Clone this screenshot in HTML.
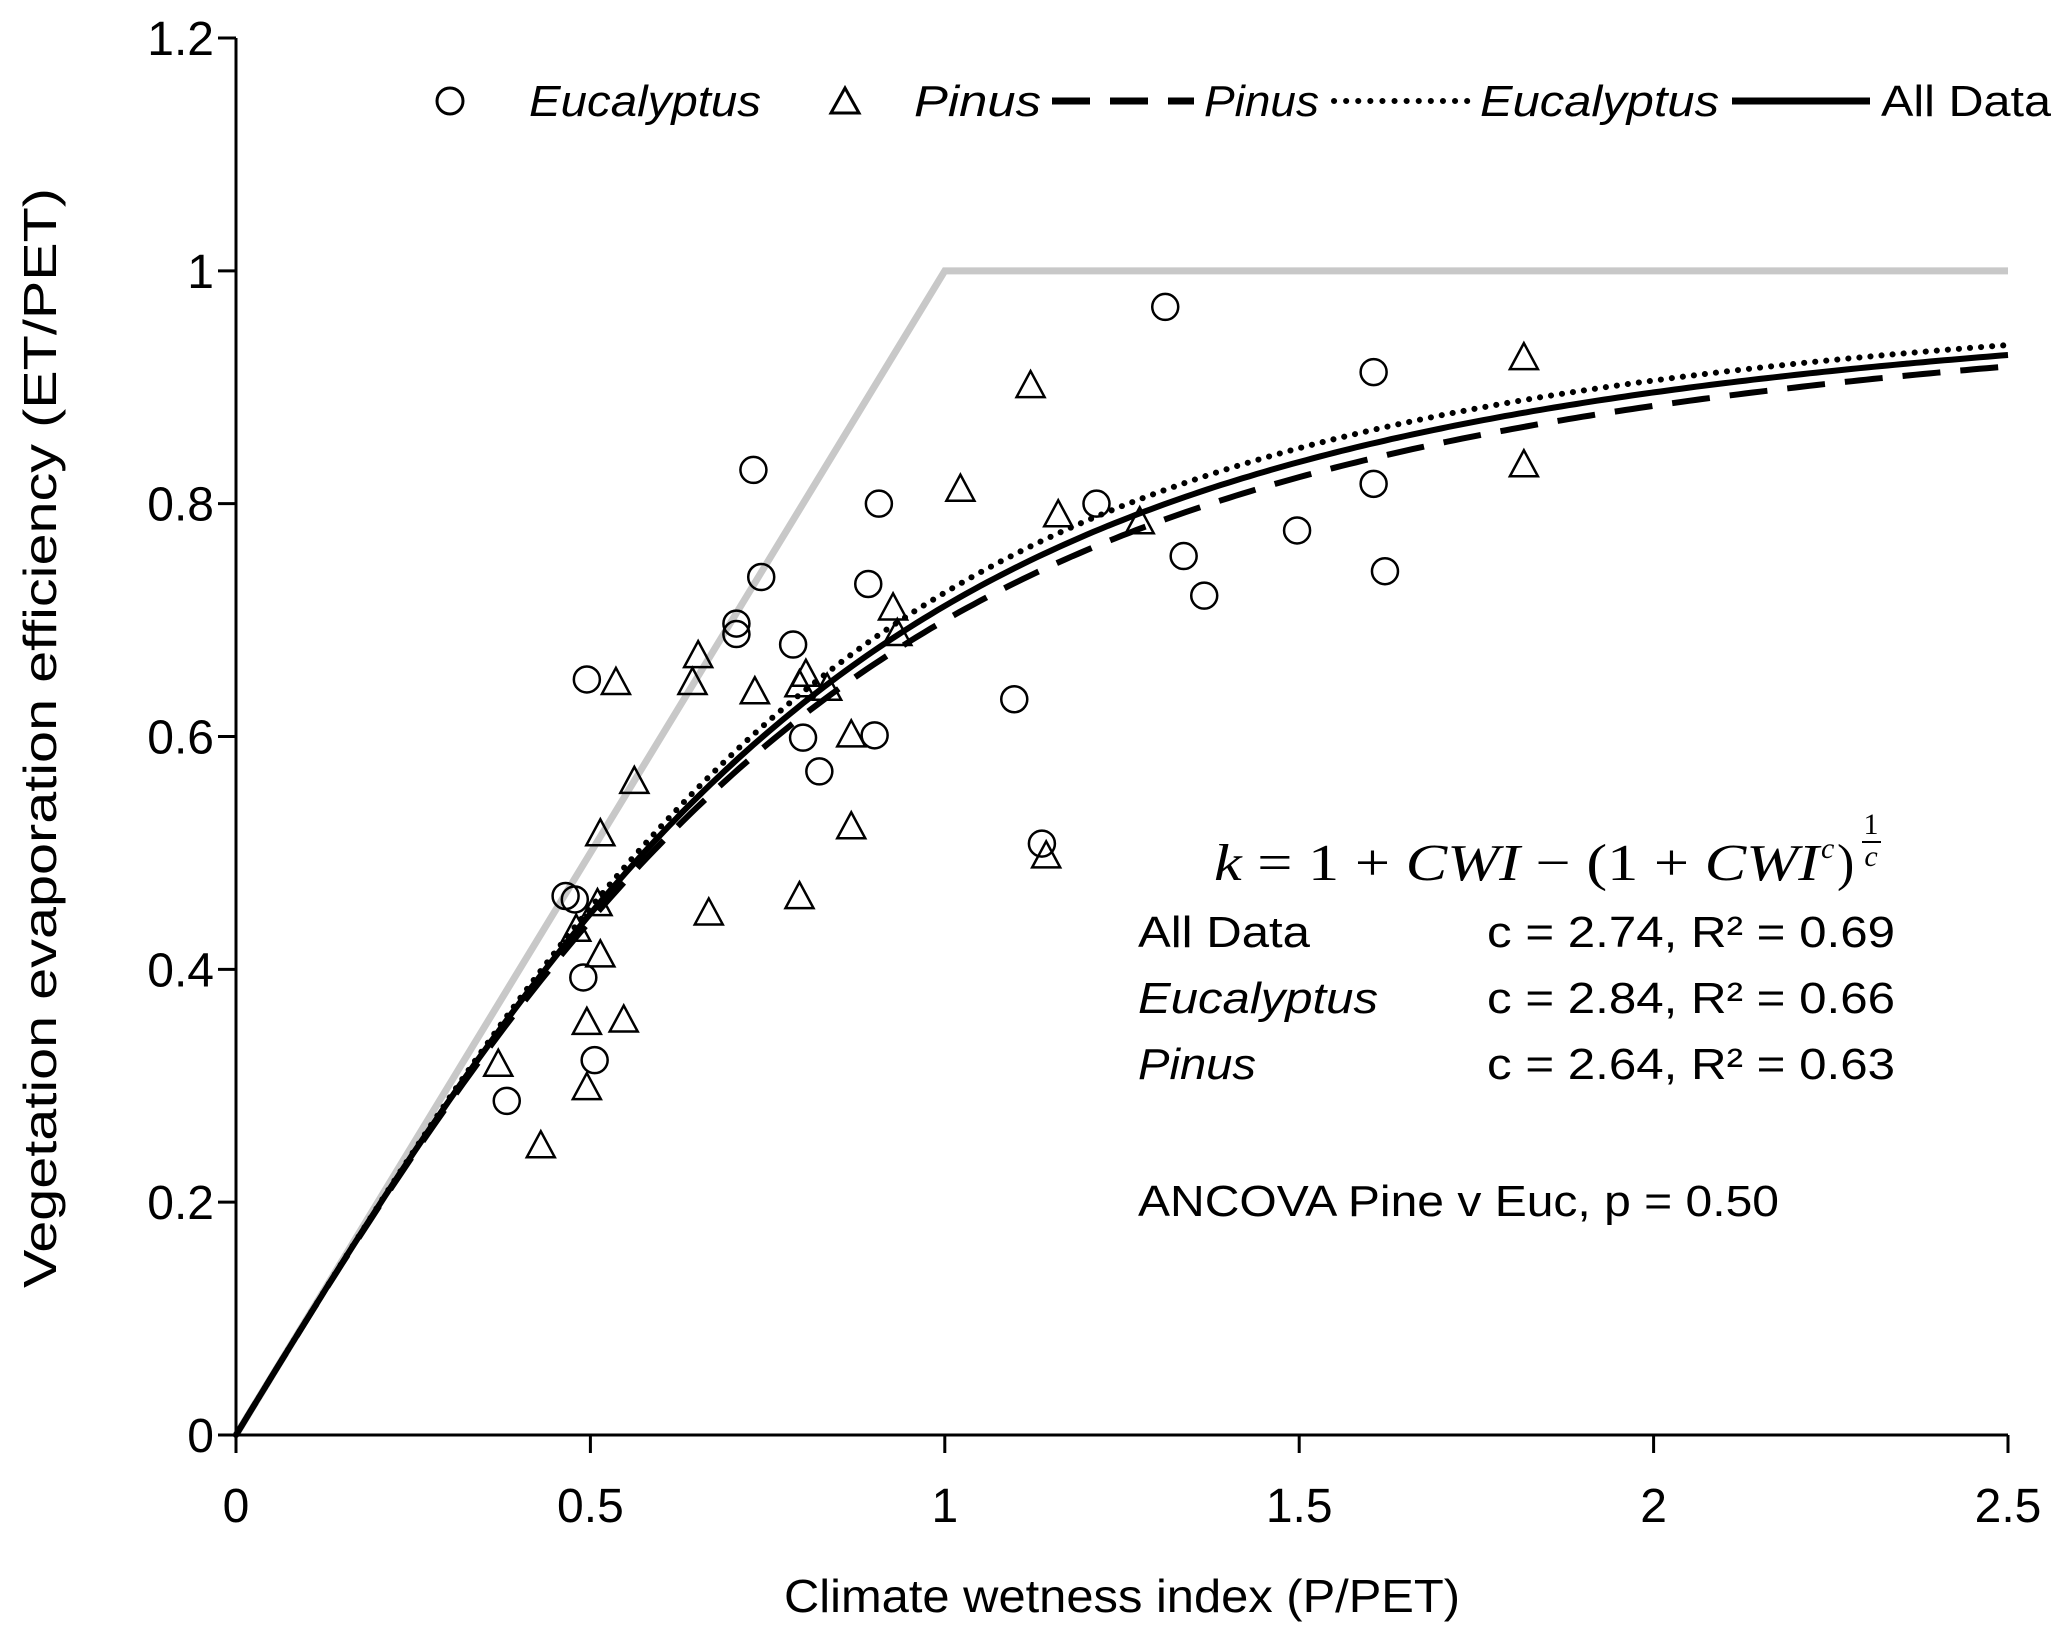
<!DOCTYPE html>
<html><head><meta charset="utf-8"><style>
html,body{margin:0;padding:0;background:#fff;}
svg{display:block;font-family:"Liberation Sans",sans-serif;}
</style></head><body>
<svg id="chart" width="2067" height="1633" viewBox="0 0 2067 1633" xmlns="http://www.w3.org/2000/svg">
<g id="curves"></g>
<g id="points"></g>
<g id="axes"></g>
<g font-size="44" font-style="italic">
  <circle cx="450" cy="101" r="13" fill="none" stroke="#000" stroke-width="3"/>
  <text x="529" y="116" textLength="232" lengthAdjust="spacingAndGlyphs">Eucalyptus</text>
  <polygon points="845,88 831,113 859,113" fill="none" stroke="#000" stroke-width="3"/>
  <text x="914" y="116" textLength="127" lengthAdjust="spacingAndGlyphs">Pinus</text>
  <line x1="1052" y1="101" x2="1194" y2="101" stroke="#000" stroke-width="7" stroke-dasharray="38,20"/>
  <text x="1204" y="116" textLength="115" lengthAdjust="spacingAndGlyphs">Pinus</text>
  <line x1="1334" y1="101" x2="1472" y2="101" stroke="#000" stroke-width="6" stroke-dasharray="0.1,12" stroke-linecap="round"/>
  <text x="1480" y="116" textLength="239" lengthAdjust="spacingAndGlyphs">Eucalyptus</text>
  <line x1="1732" y1="101" x2="1870" y2="101" stroke="#000" stroke-width="7"/>
  <text x="1881" y="116" font-style="normal" textLength="170" lengthAdjust="spacingAndGlyphs">All Data</text>
</g>
<g font-size="44">
  <text x="1214" y="880" font-family="Liberation Serif,serif" font-size="52" textLength="605" lengthAdjust="spacingAndGlyphs"><tspan font-style="italic">k</tspan> = 1 + <tspan font-style="italic">CWI</tspan> − (1 + <tspan font-style="italic">CWI</tspan></text>
  <text x="1821" y="858" font-family="Liberation Serif,serif" font-size="30" font-style="italic">c</text>
  <text x="1837" y="880" font-family="Liberation Serif,serif" font-size="52">)</text>
  <text x="1871" y="834" font-family="Liberation Serif,serif" font-size="30" text-anchor="middle">1</text>
  <line x1="1862" y1="842" x2="1881" y2="842" stroke="#000" stroke-width="2"/>
  <text x="1871" y="866" font-family="Liberation Serif,serif" font-size="30" font-style="italic" text-anchor="middle">c</text>
  <text x="1138" y="947" textLength="172" lengthAdjust="spacingAndGlyphs">All Data</text>
  <text x="1487" y="947" textLength="408" lengthAdjust="spacingAndGlyphs">c = 2.74, R² = 0.69</text>
  <text x="1138" y="1013" font-style="italic" textLength="240" lengthAdjust="spacingAndGlyphs">Eucalyptus</text>
  <text x="1487" y="1013" textLength="408" lengthAdjust="spacingAndGlyphs">c = 2.84, R² = 0.66</text>
  <text x="1138" y="1079" font-style="italic" textLength="118" lengthAdjust="spacingAndGlyphs">Pinus</text>
  <text x="1487" y="1079" textLength="408" lengthAdjust="spacingAndGlyphs">c = 2.64, R² = 0.63</text>
  <text x="1138" y="1216" textLength="641" lengthAdjust="spacingAndGlyphs">ANCOVA Pine v Euc, p = 0.50</text>
</g>
<text x="1122" y="1612" font-size="46" text-anchor="middle" textLength="676" lengthAdjust="spacingAndGlyphs">Climate wetness index (P/PET)</text>
<text transform="translate(56,738) rotate(-90)" font-size="46" text-anchor="middle" textLength="1100" lengthAdjust="spacingAndGlyphs">Vegetation evaporation efficiency (ET/PET)</text>
</svg>
<script>
const xTicks = [0, 0.5, 1, 1.5, 2, 2.5];
const xTickLabels = ["0", "0.5", "1", "1.5", "2", "2.5"];
const yTicks = [0, 0.2, 0.4, 0.6, 0.8, 1, 1.2];
const yTickLabels = ["0", "0.2", "0.4", "0.6", "0.8", "1", "1.2"];
const eucX = [0.382,0.465,0.478,0.490,0.506,0.495,0.706,0.706,0.730,0.741,0.786,0.800,0.823,0.892,0.901,0.907,1.098,1.137,1.214,1.311,1.337,1.366,1.497,1.605,1.605,1.621];
const eucY = [0.287,0.463,0.460,0.393,0.322,0.649,0.697,0.688,0.829,0.737,0.679,0.599,0.570,0.731,0.601,0.800,0.632,0.508,0.800,0.969,0.755,0.721,0.777,0.913,0.817,0.742];
const pinX = [0.370,0.430,0.480,0.495,0.495,0.510,0.514,0.514,0.536,0.547,0.562,0.644,0.652,0.667,0.732,0.795,0.795,0.804,0.834,0.868,0.868,0.927,0.933,1.022,1.121,1.143,1.160,1.275,1.817,1.817];
const pinY = [0.318,0.248,0.434,0.354,0.298,0.456,0.516,0.412,0.646,0.356,0.561,0.646,0.669,0.448,0.638,0.462,0.644,0.653,0.641,0.601,0.522,0.710,0.688,0.812,0.901,0.497,0.790,0.784,0.925,0.833];
const limitX = [0, 1, 2.5];
const limitY = [0, 1, 1];
const fitNames = ["pinus-fit", "eucalyptus-fit", "all-data-fit"];
const fitC = [2.64, 2.84, 2.74];

const NS = "http://www.w3.org/2000/svg";
const X0 = 236, X1 = 2008, Y0 = 1435, Y1 = 38;
const sx = v => X0 + (v / 2.5) * (X1 - X0);
const sy = v => Y0 - (v / 1.2) * (Y0 - Y1);
function mk(tag, attrs, parent) {
  const e = document.createElementNS(NS, tag);
  for (const k in attrs) e.setAttribute(k, attrs[k]);
  parent.appendChild(e);
  return e;
}
const curves = document.getElementById('curves');
const points = document.getElementById('points');
const axes = document.getElementById('axes');

let lp = limitX.map((x, i) => sx(x) + ',' + sy(limitY[i])).join(' ');
const lim = mk('polyline', {points: lp, fill: 'none', stroke: '#c8c8c8', 'stroke-width': 7, 'stroke-linejoin': 'miter'}, curves);



const styles = [
  {'stroke-dasharray': '38,20', 'stroke-width': 6},
  {'stroke-dasharray': '0.1,11', 'stroke-linecap': 'round', 'stroke-width': 6},
  {'stroke-width': 6}
];
fitC.forEach((c, i) => {
  const pts = [];
  for (let k = 0; k <= 250; k++) {
    const x = k / 100;
    const y = 1 + x - Math.pow(1 + Math.pow(x, c), 1 / c);
    pts.push(sx(x).toFixed(1) + ',' + sy(y).toFixed(1));
  }
  const a = Object.assign({points: pts.join(' '), fill: 'none', stroke: '#000'}, styles[i]);
  const pl = mk('polyline', a, curves);
  
  
});

eucX.forEach((x, i) => {
  const c = mk('circle', {cx: sx(x), cy: sy(eucY[i]), r: 13, fill: 'none', stroke: '#000', 'stroke-width': 2.5}, points);
  
  
});
pinX.forEach((x, i) => {
  const cx = sx(x), cy = sy(pinY[i]);
  const t = mk('polygon', {points: `${cx},${cy-15} ${cx-14},${cy+11} ${cx+14},${cy+11}`, fill: 'none', stroke: '#000', 'stroke-width': 2.5}, points);
  
  
});

const xa = mk('line', {x1: X0, y1: Y0, x2: X1, y2: Y0, stroke: '#000', 'stroke-width': 3}, axes);


const ya = mk('line', {x1: X0, y1: Y0 + 18, x2: X0, y2: Y1, stroke: '#000', 'stroke-width': 3}, axes);


xTicks.forEach((v, i) => {
  const t = mk('line', {x1: sx(v), y1: Y0, x2: sx(v), y2: Y0 + 18, stroke: '#000', 'stroke-width': 3}, axes);
  
  
  const l = mk('text', {x: sx(v), y: Y0 + 87, 'font-size': 48, 'text-anchor': 'middle'}, axes);
  l.textContent = xTickLabels[i];
  
  
});
yTicks.forEach((v, i) => {
  const t = mk('line', {x1: X0 - 18, y1: sy(v), x2: X0, y2: sy(v), stroke: '#000', 'stroke-width': 3}, axes);
  
  
  const l = mk('text', {x: 214, y: sy(v) + 17, 'font-size': 48, 'text-anchor': 'end'}, axes);
  l.textContent = yTickLabels[i];
  
  
});
</script>
</body></html>
